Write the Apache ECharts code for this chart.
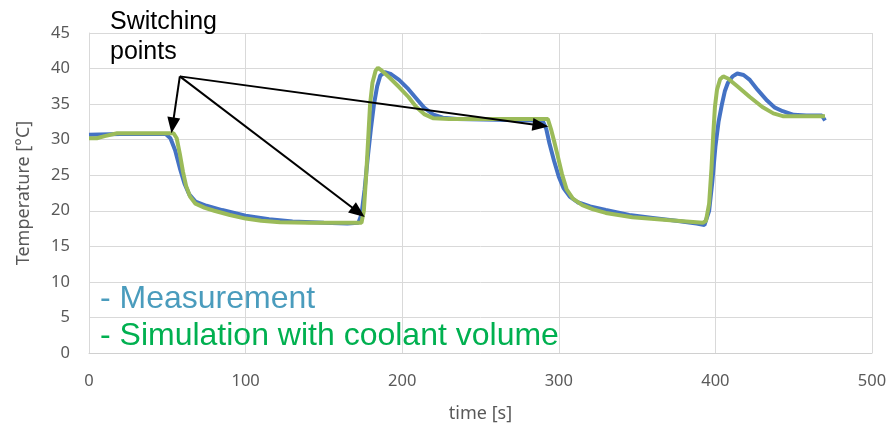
<!DOCTYPE html>
<html>
<head>
<meta charset="utf-8">
<script src="https://cdn.jsdelivr.net/npm/echarts@6/dist/echarts.min.js"></script>
<style>
    html, body { margin: 0; padding: 0; background: #fff; }
    #chart { width: 893px; height: 433px; }
</style>
</head>
<body>
<div id="chart"></div>
<script>
// measurement (blue)
var measTime = [0, 20, 49, 52, 55, 58, 61, 64, 68, 75, 85, 100, 115, 130, 150, 165, 172, 174, 176, 178, 180, 182, 184, 186, 189, 193, 198, 204, 209, 214, 220, 226, 235, 260, 285, 290, 292, 294, 297, 300, 303, 307, 312, 320, 330, 345, 360, 375, 388, 393, 396, 398, 400, 402, 404, 406, 408, 411, 414, 418, 422, 427, 433, 438, 443, 450, 458, 468, 470];
var measTemp = [30.7, 30.8, 30.8, 30.2, 28.5, 26.0, 23.8, 22.3, 21.3, 20.7, 20.1, 19.3, 18.8, 18.5, 18.3, 18.2, 18.3, 19.5, 23, 27.5, 31.5, 35, 37.5, 39, 39.5, 39.2, 38.4, 37.1, 35.8, 34.5, 33.5, 33.1, 32.9, 32.8, 32.7, 32.5, 31.5, 29.5, 27, 24.8, 23.2, 22.0, 21.2, 20.6, 20.1, 19.4, 19.0, 18.6, 18.2, 18.0, 20, 24, 29, 32.5, 34.8, 36.8, 38, 38.9, 39.3, 39.1, 38.4, 37.0, 35.5, 34.5, 34.0, 33.5, 33.4, 33.4, 32.7];

// simulation with coolant volume (green)
var simTime = [0, 5, 10, 18, 54, 56, 58, 60, 62, 64.5, 68, 74, 80, 90, 100, 110, 122, 140, 174, 175.5, 177, 178.5, 179.5, 181, 183, 184.5, 187, 192, 198, 204, 209, 214, 220, 230, 293, 295, 297, 299, 302, 305, 309, 315, 322, 330, 347, 369, 392, 394, 396, 397.5, 398.7, 399.7, 401, 403, 405, 408, 414, 422, 430, 437, 443, 455, 470];
var simTemp = [30.2, 30.2, 30.5, 30.9, 30.9, 30.2, 28.0, 25.5, 23.5, 22.0, 21.0, 20.4, 20.0, 19.4, 18.9, 18.6, 18.4, 18.3, 18.3, 20, 25, 31, 35, 38, 39.7, 40.1, 39.7, 38.7, 37.4, 36, 34.6, 33.6, 33.0, 32.9, 32.9, 31.5, 29.8, 28, 25.2, 23.0, 21.7, 20.8, 20.2, 19.7, 19.1, 18.7, 18.3, 18.6, 21, 26, 31, 34.6, 37, 38.5, 38.9, 38.6, 37.5, 36.0, 34.6, 33.7, 33.3, 33.3, 33.3];

// switching point arrows [time, temp]
var arrowFrom = [58, 38.9];
var arrowTo = [[53.4, 32.0], [172.0, 19.8], [288.3, 32.0]];

function pairs(xs, ys) {
    return xs.map(function (x, i) { return [x, ys[i]]; });
}

var chart = echarts.init(document.getElementById('chart'));

var options = {
    animation: false,
    title: {
        text: 'Switching\npoints',
        left: 105,
        top: 2,
        textStyle: {
            fontFamily: 'Liberation Sans',
            fontSize: 25,
            fontWeight: 'normal',
            color: '#000',
            lineHeight: 30
        }
    },
    legend: {
        orient: 'vertical',
        left: 90,
        top: 278,
        itemGap: 5,
        itemWidth: 0,
        itemHeight: 0,
        icon: 'none',
        formatter: '- {name}',
        textStyle: { fontFamily: 'Liberation Sans', fontSize: 32 },
        data: [
            { name: 'Measurement', textStyle: { color: '#4a9cbd' } },
            { name: 'Simulation with coolant volume', textStyle: { color: '#00b050' } }
        ]
    },
    grid: { left: 89, right: 21, top: 33, bottom: 80 },
    xAxis: {
        type: 'value',
        min: 0,
        max: 500,
        interval: 100,
        name: 'time [s]',
        nameLocation: 'middle',
        nameGap: 52,
        nameTextStyle: { fontFamily: 'Noto Sans', fontSize: 18, color: '#595959' },
        axisLine: { lineStyle: { color: '#d0d0d0' } },
        axisTick: { show: false },
        axisLabel: { fontFamily: 'Noto Sans', fontSize: 16.5, color: '#595959', margin: 20 },
        splitLine: { show: true, lineStyle: { color: '#d9d9d9' } }
    },
    yAxis: {
        type: 'value',
        min: 0,
        max: 45,
        interval: 5,
        name: 'Temperature [°C]',
        nameLocation: 'middle',
        nameGap: 56,
        nameTextStyle: { fontFamily: 'Noto Sans', fontSize: 18, color: '#595959' },
        axisLine: { show: true, lineStyle: { color: '#d9d9d9' } },
        axisTick: { show: false },
        axisLabel: { fontFamily: 'Noto Sans', fontSize: 16.5, color: '#595959', margin: 19 },
        splitLine: { lineStyle: { color: '#d9d9d9' } }
    },
    series: [
        {
            name: 'Measurement',
            type: 'line',
            data: pairs(measTime, measTemp),
            showSymbol: false,
            lineStyle: { color: '#4472c4', width: 4 },
            itemStyle: { color: '#4472c4' }
        },
        {
            name: 'Simulation with coolant volume',
            type: 'line',
            data: pairs(simTime, simTemp),
            showSymbol: false,
            lineStyle: { color: '#9bbb59', width: 4 },
            itemStyle: { color: '#9bbb59' }
        },
        {
            name: 'arrows',
            type: 'line',
            data: [],
            z: 5,
            markLine: {
                silent: true,
                symbol: ['none', 'triangle'],
                symbolSize: [13, 16],
                label: { show: false },
                lineStyle: { color: '#000', width: 2, type: 'solid' },
                data: arrowTo.map(function (p) {
                    return [{ coord: arrowFrom }, { coord: p }];
                })
            }
        }
    ]
};

chart.setOption(options);
</script>
</body>
</html>
